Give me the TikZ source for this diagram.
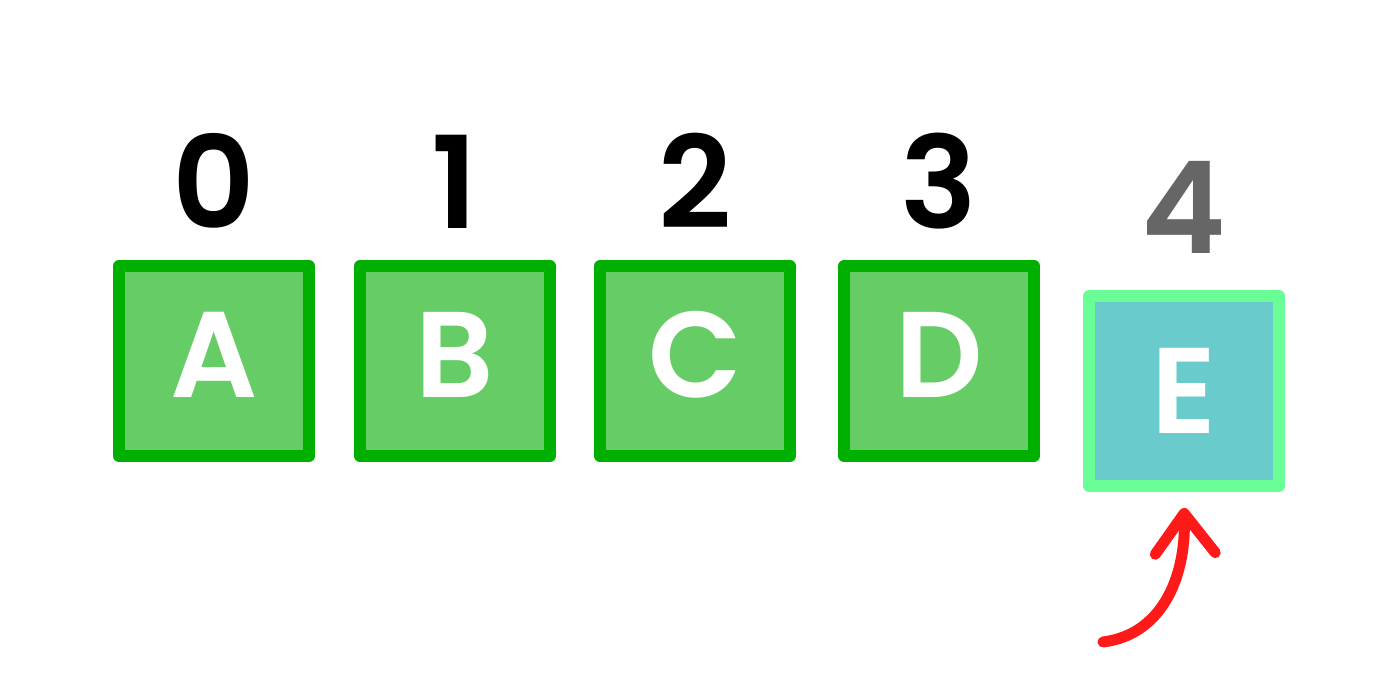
\documentclass[tikz,border=0pt]{standalone}
\usepackage{fontspec}
\setmainfont{Poppins}[BoldFont={* SemiBold}]
\usetikzlibrary{positioning,arrows.meta}
\definecolor{boxfill}{HTML}{66CC66}
\definecolor{boxline}{HTML}{00B000}
\definecolor{newfill}{HTML}{69CBCB}
\definecolor{newline}{HTML}{6AFF96}
\definecolor{idxgray}{HTML}{666666}
\definecolor{arrowred}{HTML}{FF1A1A}

\begin{document}
\begin{tikzpicture}[x=1pt,y=1pt,
    cell/.style={rectangle, draw=boxline, fill=boxfill, line width=6pt, line join=round,
        minimum size=95pt, inner sep=0pt, text=white, text height=43pt, text depth=6pt,
        font=\fontsize{61}{61}\selectfont\bfseries},
    newcell/.style={cell, draw=newline, fill=newfill, text depth=0pt},
    idx/.style={anchor=base, font=\fontsize{64}{64}\selectfont\bfseries}]
\useasboundingbox (0,0) rectangle (700,350);
% draw the array
\node[cell] (A) at (107,169.5) {A};
\foreach \this/\prev/\gap in {B/A/19.5pt,C/B/19pt,D/C/21pt}
    \node[cell, right=\gap of \prev] (\this) {\this};
% draw the appended cell
\node[newcell, right=21.5pt of D, yshift=-15pt] (E) {E};
% draw the indices
\foreach \i/\cellname in {0/A,1/B,2/C,3/D}
    \node[idx] (n\i) at ([yshift=15.5pt]\cellname.north) {\i};
\node[idx, text=idxgray] (n4) at ([yshift=18pt]E.north) {4};
% draw the arrow
\coordinate (tail) at (551.5,29);
\coordinate (head) at ([yshift=-8pt]E.south);
\draw[arrowred, line width=5.5pt, line cap=round,
    -{Straight Barb[length=20pt,width=30pt,line cap=round,line join=round]}]
    (tail) .. controls (580,32.5) and (593,60) .. (head);
\end{tikzpicture}
\end{document}
